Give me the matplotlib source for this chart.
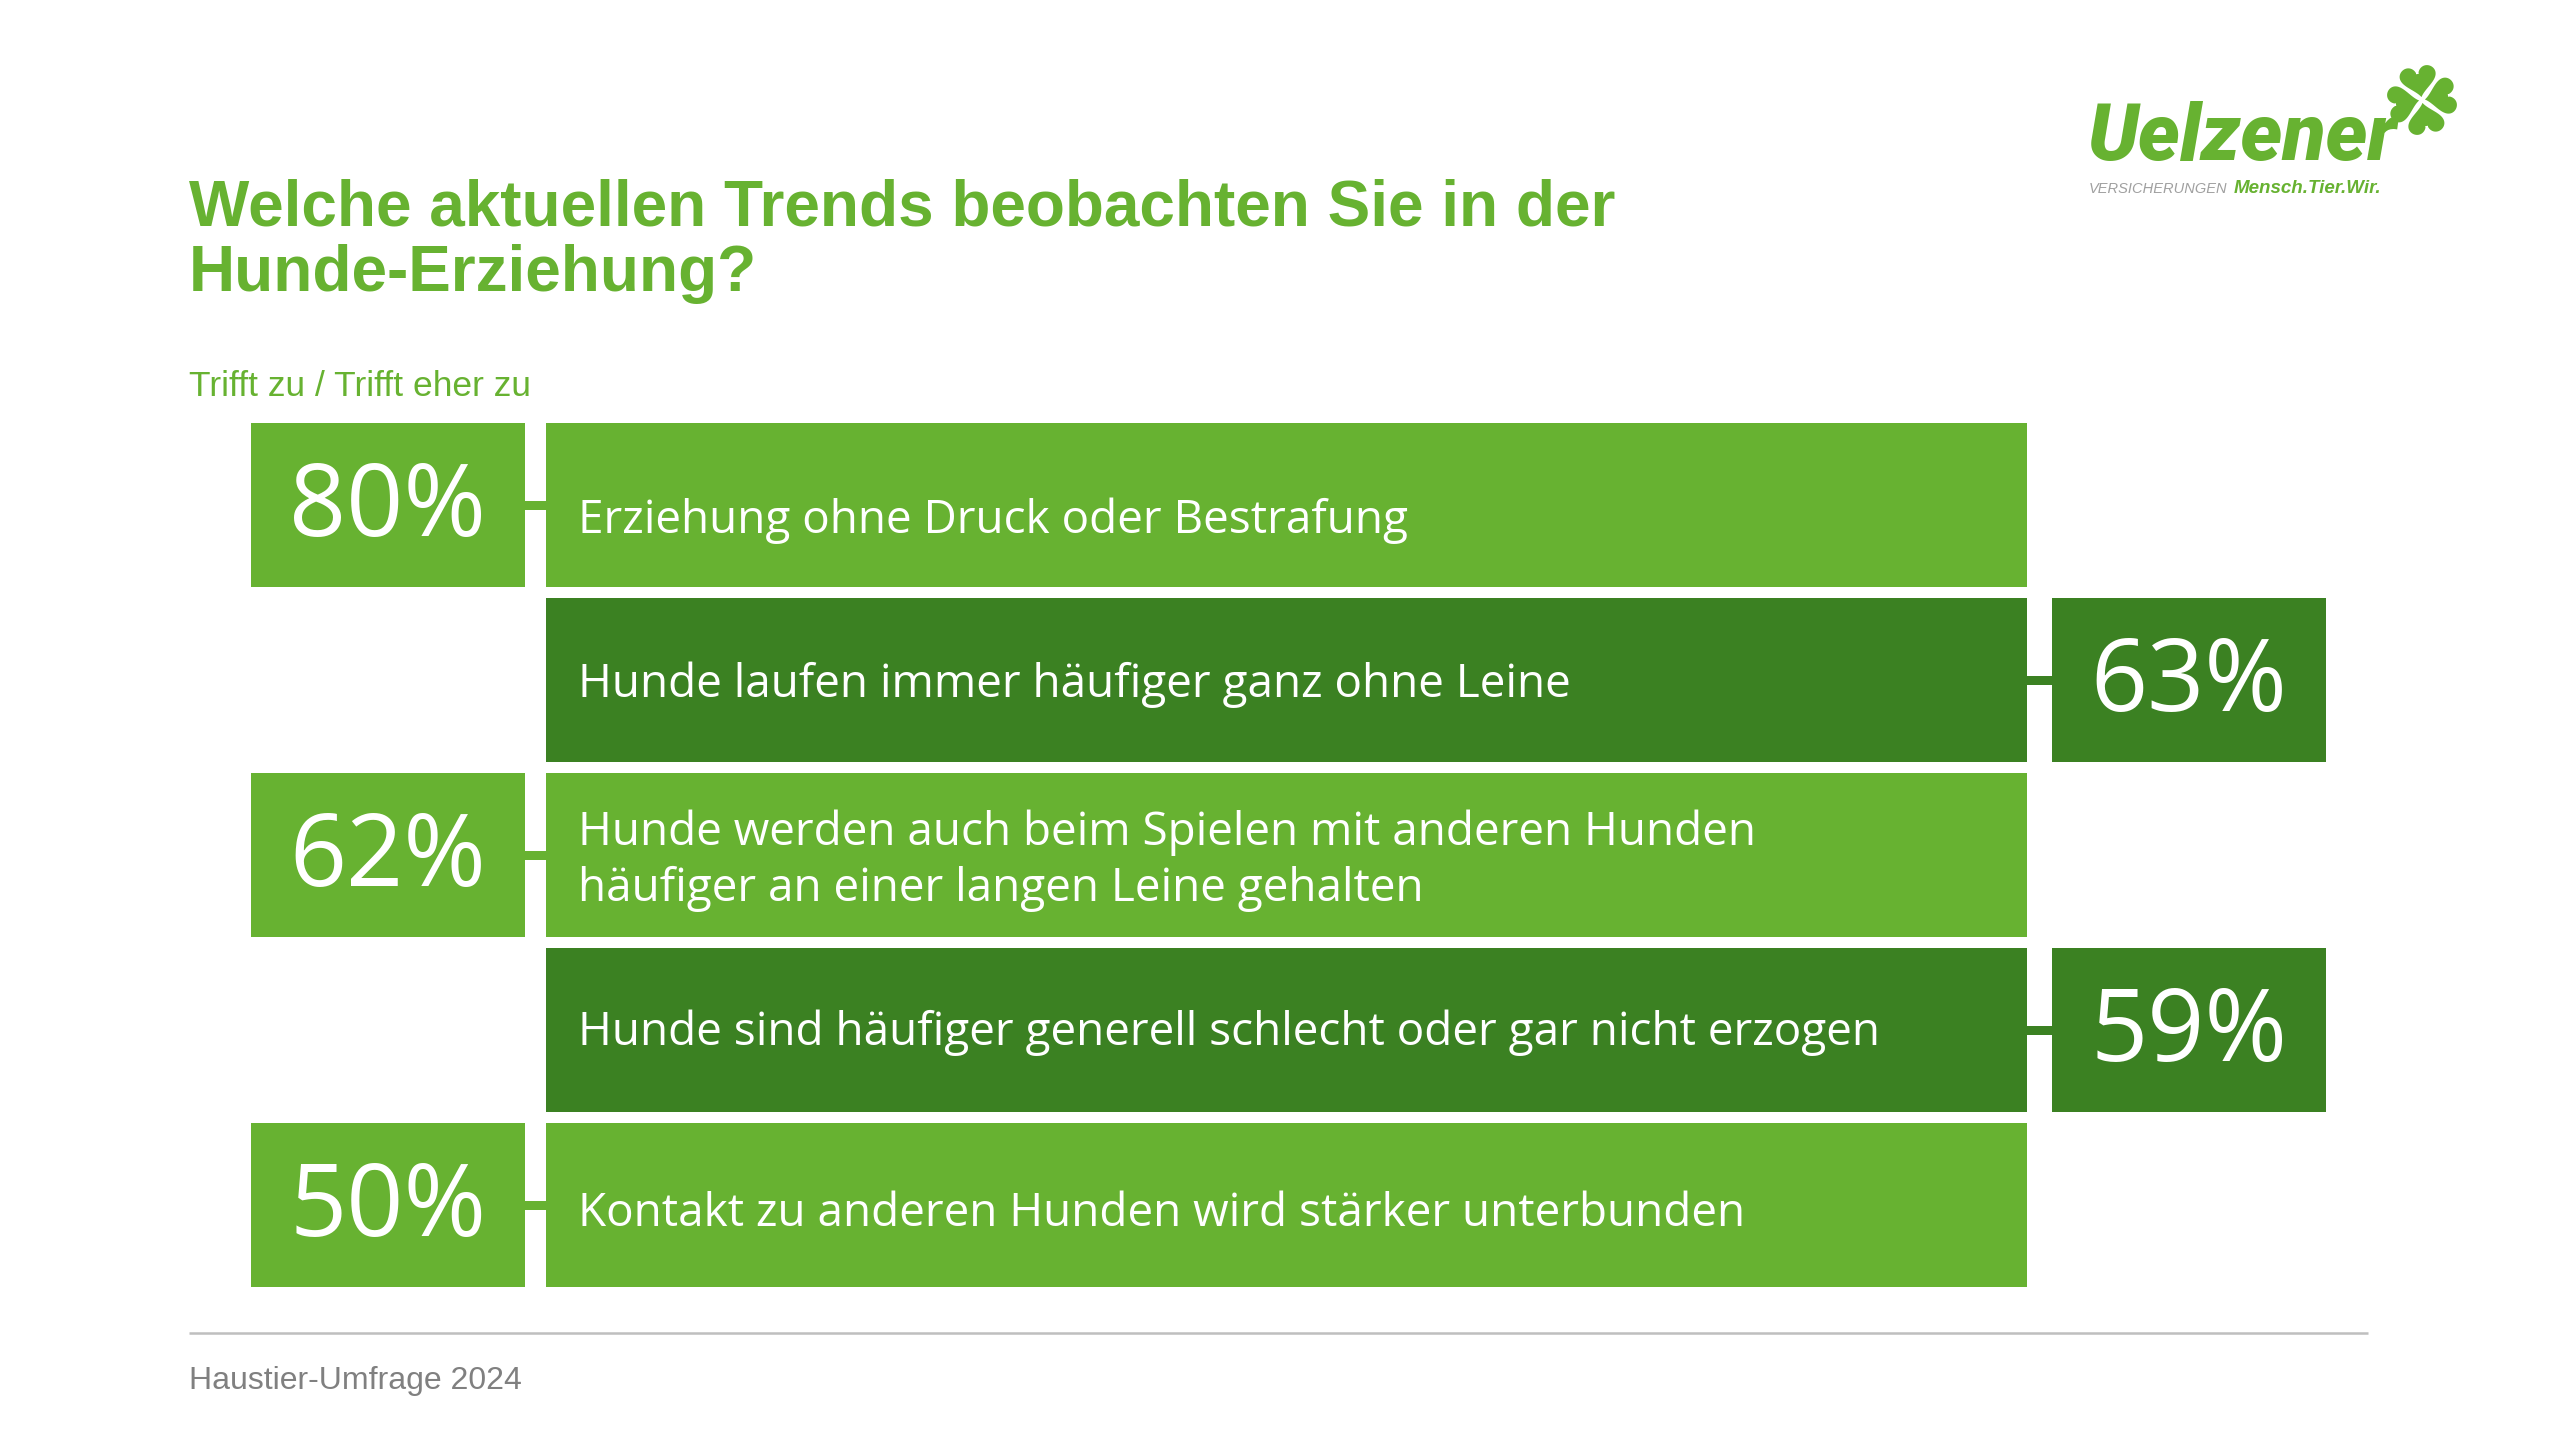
import numpy as np
import matplotlib
matplotlib.use("Agg")
import matplotlib.pyplot as plt
from matplotlib.patches import Polygon

# ==========================================
# 1. DATA
# ==========================================
CATEGORIES = [
    "Erziehung ohne Druck oder Bestrafung",
    "Hunde laufen immer häufiger ganz ohne Leine",
    "Hunde werden auch beim Spielen mit anderen Hunden\nhäufiger an einer langen Leine gehalten",
    "Hunde sind häufiger generell schlecht oder gar nicht erzogen",
    "Kontakt zu anderen Hunden wird stärker unterbunden",
]
VALUES = [80, 63, 62, 59, 50]
SIDES = ["left", "right", "left", "right", "left"]

TITLE_LINES = ["Welche aktuellen Trends beobachten Sie in der", "Hunde-Erziehung?"]
SUBTITLE = "Trifft zu / Trifft eher zu"
FOOTER = "Haustier-Umfrage 2024"

# ==========================================
# 2. STYLE
# ==========================================
GREEN = "#67B231"
DARK_GREEN = "#3B8122"
GREY = "#808080"
LINE_GREY = "#BFBFBF"
WHITE = "#FFFFFF"

W, H = 2560, 1440
ROW_PITCH = 175          # px between rows
ROW_TOP = 505            # px, centre of first row
BAR_H = 164 / ROW_PITCH  # in row units
CONN_H = 9 / ROW_PITCH

LEFT_BOX_X, BOX_W = 251, 274
LABEL_X, LABEL_W = 546, 1481
RIGHT_BOX_X = 2052

BODY_FONT = ["Open Sans", "DejaVu Sans"]
HEAD_FONT = ["Liberation Sans", "DejaVu Sans"]

plt.rcParams.update({
    "figure.facecolor": WHITE,
    "font.family": BODY_FONT,
})

fig = plt.figure(figsize=(W / 100, H / 100), dpi=100)

# decoration layer in pixel coordinates (y down)
deco = fig.add_axes([0, 0, 1, 1])
deco.set_xlim(0, W)
deco.set_ylim(H, 0)
deco.axis("off")

# ==========================================
# 3. BARS
# ==========================================
n = len(VALUES)
rows = np.arange(n)
top_px = ROW_TOP - ROW_PITCH / 2
bot_px = ROW_TOP + ROW_PITCH * (n - 0.5)
ax = fig.add_axes([0, 1 - bot_px / H, 1, (bot_px - top_px) / H])
ax.set_xlim(0, W)
ax.set_ylim(n - 0.5, -0.5)
ax.axis("off")

colors = [GREEN if s == "left" else DARK_GREEN for s in SIDES]
is_left = np.array([s == "left" for s in SIDES])

ax.barh(rows, LABEL_W, left=LABEL_X, height=BAR_H, color=colors, edgecolor="none")

# value boxes + connectors
for side, box_x, conn_x, conn_w in [
    ("left", LEFT_BOX_X, LEFT_BOX_X + BOX_W, LABEL_X - LEFT_BOX_X - BOX_W),
    ("right", RIGHT_BOX_X, LABEL_X + LABEL_W, RIGHT_BOX_X - LABEL_X - LABEL_W),
]:
    mask = is_left if side == "left" else ~is_left
    col = GREEN if side == "left" else DARK_GREEN
    ax.barh(rows[mask], BOX_W, left=box_x, height=BAR_H, color=col, edgecolor="none")
    ax.barh(rows[mask], conn_w, left=conn_x, height=CONN_H, color=col, edgecolor="none")
    for r in rows[mask]:
        ax.text(box_x + BOX_W / 2, r + 5 / ROW_PITCH, f"{VALUES[r]}%", ha="center", va="center",
                fontsize=72, color=WHITE, family=BODY_FONT)

# category labels
TEXT_DY = [13, 2, 3, 0, 6]  # px tweaks
for r, label in enumerate(CATEGORIES):
    lines = label.split("\n")
    first = 15 - (len(lines) - 1) * 55 / 2 + TEXT_DY[r]
    for k, line in enumerate(lines):
        ax.text(LABEL_X + 32, r + (first + k * 55) / ROW_PITCH, line,
                ha="left", va="baseline", fontsize=33, color=WHITE, family=BODY_FONT)

# ==========================================
# 4. TITLES / FOOTER
# ==========================================
for k, line in enumerate(TITLE_LINES):
    deco.text(189, 225 + k * 66, line, ha="left", va="baseline", fontsize=46,
              fontweight="bold", color=GREEN, family=HEAD_FONT)

deco.text(189, 396, SUBTITLE, ha="left", va="baseline", fontsize=25.5,
          color=GREEN, family=HEAD_FONT)

deco.plot([189, 2368], [1333, 1333], color=LINE_GREY, lw=1.8, solid_capstyle="butt")
deco.text(189, 1389, FOOTER, ha="left", va="baseline", fontsize=23,
          color=GREY, family=HEAD_FONT)

# ==========================================
# 5. LOGO
# ==========================================
deco.text(2088, 160, "Uelzener", ha="left", va="baseline", fontsize=57,
          fontweight="heavy", fontstyle="italic", color=GREEN, family=["Roboto", "DejaVu Sans"])
deco.text(2089, 193, "VERSICHERUNGEN", ha="left", va="baseline", fontsize=10.5,
          fontstyle="italic", color="#A0A0A0", family=HEAD_FONT)
deco.text(2234, 193, "Mensch.Tier.Wir.", ha="left", va="baseline", fontsize=13.5,
          fontweight="bold", fontstyle="italic", color=GREEN, family=HEAD_FONT)

t = np.linspace(0, 2 * np.pi, 200)
hx = 16 * np.sin(t) ** 3
hy = 13 * np.cos(t) - 5 * np.cos(2 * t) - 2 * np.cos(3 * t) - np.cos(4 * t)
hy = hy + 17  # tip at origin, lobes upwards
cx, cy, scale = 2422, 100, 1.2
for ang in [10, 100, 190, 280]:
    a = np.deg2rad(ang - 90)
    x = hx * np.cos(a) - hy * np.sin(a)
    y = hx * np.sin(a) + hy * np.cos(a)
    pts = np.column_stack([cx + x * scale, cy - y * scale])
    deco.add_patch(Polygon(pts, closed=True, facecolor=GREEN, edgecolor=WHITE, lw=1.5))

fig.savefig("out.png", dpi=100, facecolor=WHITE)
